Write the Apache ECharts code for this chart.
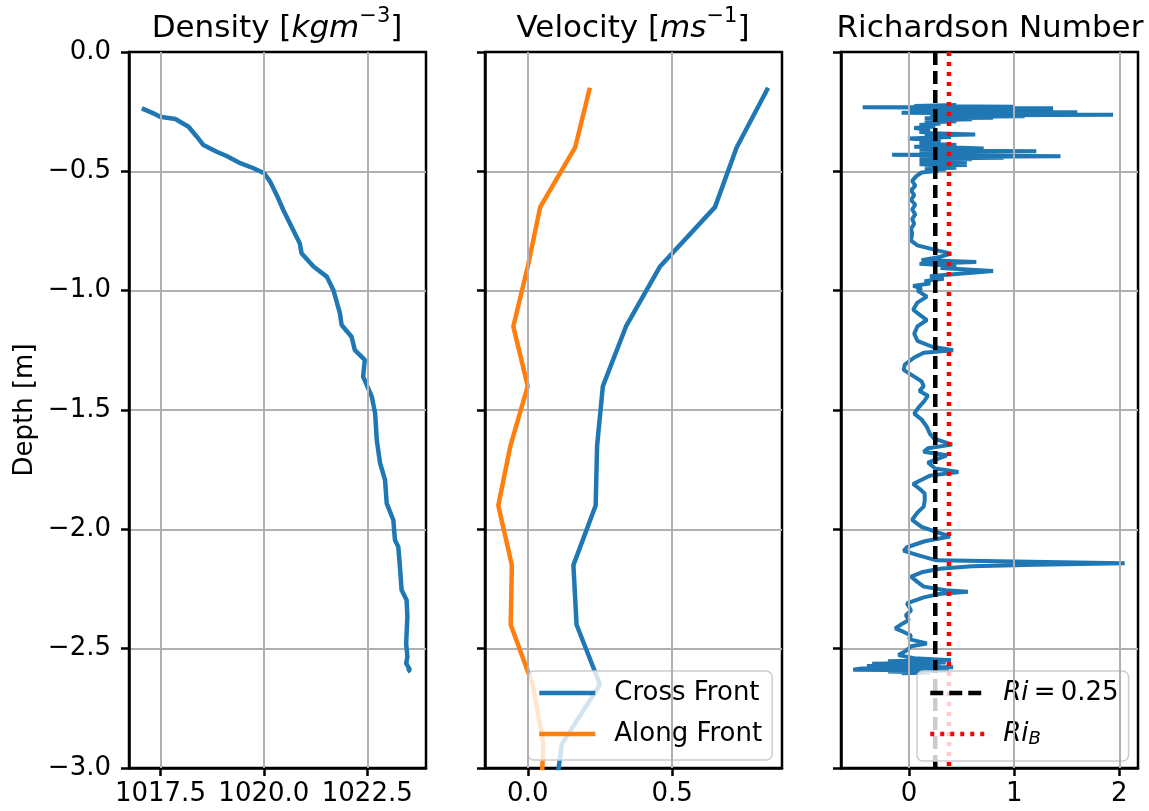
<!DOCTYPE html>
<html>
<head>
<meta charset="utf-8">
<script src="https://cdn.jsdelivr.net/npm/echarts@6/dist/echarts.min.js"></script>
<style>
  html, body { margin: 0; padding: 0; background: #fff; }
  #main { width: 1149px; height: 811px; }
</style>
</head>
<body>
<div id="main"></div>
<script>
// ---- data ----
var densityDepth = [-0.236, -0.257, -0.271, -0.281, -0.313, -0.355, -0.390, -0.418, -0.436, -0.466,
  -0.487, -0.508, -0.543, -0.599, -0.662, -0.732, -0.802, -0.843, -0.899, -0.941,
  -0.997, -1.095, -1.144, -1.193, -1.249, -1.290, -1.360, -1.444, -1.514, -1.626,
  -1.723, -1.793, -1.891, -1.961, -2.045, -2.073, -2.157, -2.254, -2.296, -2.366,
  -2.478, -2.534, -2.561, -2.589, -2.596];
var densityValue = [1017.05, 1017.33, 1017.49, 1017.86, 1018.18, 1018.38, 1018.54, 1018.86, 1019.10, 1019.43,
  1019.75, 1020.01, 1020.15, 1020.31, 1020.47, 1020.67, 1020.87, 1020.91, 1021.20, 1021.52,
  1021.68, 1021.84, 1021.88, 1022.12, 1022.20, 1022.44, 1022.40, 1022.61, 1022.69, 1022.73,
  1022.81, 1022.93, 1022.97, 1023.13, 1023.17, 1023.25, 1023.29, 1023.33, 1023.45, 1023.47,
  1023.44, 1023.47, 1023.44, 1023.53, 1023.47];
var densityTicks = [1017.5, 1020.0, 1022.5];

var velDepth = [-0.15, -0.40, -0.65, -0.90, -1.15, -1.40, -1.65, -1.90, -2.15, -2.40, -2.65, -2.90, -3.15];
var crossFront = [0.832, 0.723, 0.648, 0.457, 0.34, 0.26, 0.24, 0.235, 0.158, 0.169, 0.25, 0.118, 0.09];
var alongFront = [0.215, 0.164, 0.043, 0.0, -0.05, 0.0, -0.06, -0.102, -0.055, -0.059, 0.017, 0.054, 0.045];
var velTicks = [0.0, 0.5];

var riDepth = [
  -0.222, -0.226, -0.229, -0.232, -0.234, -0.236, -0.238, -0.240, -0.242, -0.244,
  -0.246, -0.248, -0.250, -0.252, -0.255, -0.258, -0.261, -0.263, -0.266, -0.269,
  -0.272, -0.275, -0.278, -0.282, -0.286, -0.290, -0.295, -0.300, -0.306, -0.312,
  -0.318, -0.326, -0.334, -0.340, -0.346, -0.350, -0.356, -0.362, -0.368, -0.375,
  -0.382, -0.390, -0.397, -0.401, -0.404, -0.407, -0.410, -0.413, -0.416, -0.419,
  -0.422, -0.425, -0.428, -0.431, -0.434, -0.437, -0.440, -0.443, -0.446, -0.449,
  -0.452, -0.455, -0.458, -0.461, -0.464, -0.467, -0.470, -0.473, -0.476, -0.479,
  -0.482, -0.485, -0.488, -0.491, -0.494, -0.498, -0.505, -0.52, -0.54, -0.56,
  -0.58, -0.60, -0.62, -0.64, -0.66, -0.68, -0.70, -0.72, -0.74, -0.76,
  -0.79, -0.81, -0.83, -0.845, -0.86, -0.872, -0.88, -0.887, -0.897, -0.905,
  -0.918, -0.930, -0.940, -0.950, -0.960, -0.970, -0.980, -0.99, -1.00, -1.025,
  -1.05, -1.08, -1.10, -1.123, -1.15, -1.18, -1.21, -1.235, -1.25, -1.26,
  -1.28, -1.31, -1.332, -1.36, -1.38, -1.40, -1.42, -1.44, -1.46, -1.49,
  -1.515, -1.54, -1.57, -1.60, -1.62, -1.645, -1.66, -1.675, -1.69, -1.72,
  -1.745, -1.76, -1.775, -1.79, -1.81, -1.83, -1.85, -1.88, -1.905, -1.93,
  -1.96, -1.99, -2.01, -2.03, -2.05, -2.075, -2.09, -2.11, -2.13, -2.142,
  -2.148, -2.155, -2.165, -2.18, -2.198, -2.22, -2.24, -2.255, -2.262, -2.27,
  -2.285, -2.31, -2.34, -2.36, -2.38, -2.40, -2.415, -2.43, -2.445, -2.46,
  -2.478, -2.49, -2.51, -2.527, -2.54, -2.548, -2.553, -2.558, -2.563, -2.568,
  -2.573, -2.578, -2.583, -2.588, -2.592, -2.596, -2.600, -2.603];
var riValue = [
  0.45, 0.05, 1.00, -0.44, 0.60, 1.37, 0.10, 0.90, 0.20, 1.20,
  0.00, 0.80, 0.10, 1.60, -0.07, 1.10, 0.20, 1.94, 0.30, 1.10,
  0.20, 0.80, 0.15, 0.60, 0.20, 0.45, 0.15, 0.30, 0.10, 0.25,
  0.05, 0.20, 0.10, 0.22, 0.63, 0.15, 0.40, -0.01, 0.20, 0.30,
  0.10, 0.45, 0.05, 0.50, 0.71, 0.10, 0.40, 0.15, 1.21, 0.20,
  0.60, 0.10, 0.55, -0.16, 0.50, 1.44, 0.15, 0.90, 0.10, 0.60,
  0.15, 0.50, 0.10, 0.55, 0.20, 0.45, 0.10, 0.55, 0.15, 0.40,
  0.20, 0.45, 0.15, 0.35, 0.20, 0.28, 0.12, 0.07, 0.03, 0.06,
  0.02, 0.05, 0.02, 0.06, 0.03, 0.06, 0.03, 0.05, 0.02, 0.03,
  0.02, 0.08, 0.26, 0.40, 0.28, 0.12, 0.64, 0.10, 0.45, 0.30,
  0.80, 0.45, 0.20, 0.33, 0.15, 0.20, 0.04, 0.12, 0.08, 0.17,
  0.08, 0.04, 0.10, 0.17, 0.08, 0.05, 0.08, 0.22, 0.42, 0.14,
  0.05, -0.04, -0.05, 0.05, 0.12, 0.14, 0.10, 0.18, 0.15, 0.09,
  0.05, 0.12, 0.17, 0.20, 0.24, 0.41, 0.18, 0.14, 0.36, 0.18,
  0.25, 0.47, 0.20, 0.13, 0.04, 0.10, 0.15, 0.15, 0.14, 0.08,
  0.03, 0.12, 0.25, 0.39, 0.15, -0.02, -0.05, 0.10, 0.26, 2.05,
  1.20, 0.60, 0.29, 0.12, 0.02, 0.08, 0.14, 0.35, 0.56, 0.30,
  0.14, -0.02, 0.02, -0.03, 0.00, -0.08, -0.13, -0.05, 0.02, 0.00,
  0.17, 0.02, -0.03, -0.10, 0.05, 0.40, -0.20, 0.35, -0.35, 0.30,
  -0.40, 0.42, -0.45, -0.53, 0.38, -0.20, 0.20, -0.07];
var riTicks = [0, 1, 2];
var riCritical = 0.25;
var riBulk = 0.38;

function pairs(xs, ys) {
  return xs.map(function (x, i) { return [x, ys[i]]; });
}

var FONT = 'DejaVu Sans';
var BLUE = '#1f77b4';
var ORANGE = '#ff7f0e';
var GRIDGRAY = '#b0b0b0';
var FS = 26;

var myChart = echarts.init(document.getElementById('main'));

var gridLefts = [129, 485, 841];
var grids = gridLefts.map(function (l) {
  return { left: l, top: 52, width: 297, height: 716, show: true, borderColor: '#000', borderWidth: 2.5,
    backgroundColor: 'transparent', containLabel: false };
});

function yAxisFor(i) {
  return {
    type: 'value', gridIndex: i, min: -3, max: 0, interval: 0.5,
    name: i === 0 ? 'Depth [m]' : '', nameLocation: 'middle', nameGap: 91, nameRotate: 90,
    nameTextStyle: { fontSize: FS, color: '#000', fontFamily: FONT },
    axisLine: { show: true, onZero: false, lineStyle: { color: '#000', width: 2.5 } },
    axisTick: { show: true, length: 8, lineStyle: { color: '#000', width: 2.5 } },
    axisLabel: {
      show: i === 0, fontSize: FS, color: '#000', fontFamily: FONT, margin: 18,
      formatter: function (v) { return v.toFixed(1).replace('-', '\u2212'); }
    },
    splitLine: { show: true, showMinLine: false, showMaxLine: false, lineStyle: { color: GRIDGRAY, width: 2 } }
  };
}

function xAxisFor(i, min, max, ticks, digits) {
  return {
    type: 'value', gridIndex: i, min: min, max: max,
    axisLine: { show: true, onZero: false, lineStyle: { color: '#000', width: 2.5 } },
    axisTick: { show: true, length: 8, customValues: ticks, lineStyle: { color: '#000', width: 2.5 } },
    axisLabel: {
      show: true, customValues: ticks, fontSize: FS, color: '#000', fontFamily: FONT, margin: 13,
      formatter: function (v) { return v.toFixed(digits).replace('-', '\u2212'); }
    },
    splitLine: { show: false }
  };
}

// vertical grid lines at the tick values (drawn under the data)
function vGridSeries(i, ticks) {
  return {
    type: 'line', xAxisIndex: i, yAxisIndex: i, data: [], z: 1, silent: true,
    markLine: {
      silent: true, symbol: ['none', 'none'], label: { show: false },
      lineStyle: { color: GRIDGRAY, width: 2, type: 'solid' },
      emphasis: { disabled: true },
      data: ticks.map(function (t) { return { xAxis: t }; })
    }
  };
}

var titleRich = {
  a: { fontSize: 31, fontFamily: FONT, color: '#000', lineHeight: 38, verticalAlign: 'bottom' },
  b: { fontSize: 31, fontFamily: FONT, color: '#000', fontStyle: 'italic', lineHeight: 38, verticalAlign: 'bottom' },
  c: { fontSize: 21, fontFamily: FONT, color: '#000', lineHeight: 22, verticalAlign: 'top' }
};

function titleFor(text, cx) {
  return { text: text, left: cx, top: 6, textAlign: 'center', padding: 0,
    textStyle: { fontSize: 31, fontFamily: FONT, color: '#000', fontWeight: 'normal', rich: titleRich } };
}

var legendText = {
  fontSize: FS, fontFamily: FONT, color: '#000', padding: [0, 0, 0, 14],
  rich: {
    n: { fontSize: FS, fontFamily: FONT, color: '#000', lineHeight: 28, verticalAlign: 'middle' },
    i: { fontSize: FS, fontFamily: FONT, color: '#000', fontStyle: 'italic', lineHeight: 28, verticalAlign: 'middle' },
    s: { fontSize: 18, fontFamily: FONT, color: '#000', fontStyle: 'italic', lineHeight: 14, verticalAlign: 'bottom' }
  }
};

var legendBase = {
  orient: 'vertical', top: 671, itemHeight: 24, itemGap: 15,
  backgroundColor: 'rgba(255,255,255,0.8)', borderColor: '#cccccc', borderWidth: 1.5, borderRadius: 6,
  itemStyle: { opacity: 0 }, lineStyle: { width: 4.5 },
  textStyle: legendText
};

var option = {
  backgroundColor: '#fff',
  animation: false,
  title: [
    titleFor('{a|Density [}{b|kgm}{c|\u22123}{a|]}', 277),
    titleFor('{a|Velocity [}{b|ms}{c|\u22121}{a|]}', 633),
    titleFor('{a|Richardson Number}', 990)
  ],
  grid: grids,
  xAxis: [
    xAxisFor(0, 1016.74, 1023.92, densityTicks, 1),
    xAxisFor(1, -0.148, 0.880, velTicks, 1),
    xAxisFor(2, -0.646, 2.177, riTicks, 0)
  ],
  yAxis: [yAxisFor(0), yAxisFor(1), yAxisFor(2)],
  legend: [
    Object.assign({}, legendBase, {
      data: ['Cross Front', 'Along Front'], left: 528,
      itemWidth: 56, padding: [9, 10, 13, 9]
    }),
    Object.assign({}, legendBase, {
      data: ['Ri = 0.25', 'RiB'], left: 917,
      itemWidth: 54, padding: [9, 10, 13, 11],
      formatter: function (name) {
        return name === 'RiB' ? '{i|Ri}{s|B}' : '{i|Ri}{n|\u2009=\u20090.25}';
      }
    })
  ],
  series: [
    vGridSeries(0, densityTicks),
    vGridSeries(1, velTicks),
    vGridSeries(2, riTicks),
    {
      name: 'Density', type: 'line', xAxisIndex: 0, yAxisIndex: 0, symbol: 'none',
      data: pairs(densityValue, densityDepth),
      lineStyle: { color: BLUE, width: 4.5 }, itemStyle: { color: BLUE }
    },
    {
      name: 'Cross Front', type: 'line', xAxisIndex: 1, yAxisIndex: 1, symbol: 'none',
      data: pairs(crossFront, velDepth),
      lineStyle: { color: BLUE, width: 4.5 }, itemStyle: { color: BLUE }
    },
    {
      name: 'Along Front', type: 'line', xAxisIndex: 1, yAxisIndex: 1, symbol: 'none',
      data: pairs(alongFront, velDepth),
      lineStyle: { color: ORANGE, width: 4.5 }, itemStyle: { color: ORANGE }
    },
    {
      name: 'Ri', type: 'line', xAxisIndex: 2, yAxisIndex: 2, symbol: 'none',
      data: pairs(riValue, riDepth),
      lineStyle: { color: BLUE, width: 4 }, itemStyle: { color: BLUE }
    },
    {
      name: 'Ri = 0.25', type: 'line', xAxisIndex: 2, yAxisIndex: 2, symbol: 'none',
      data: [[riCritical, 0], [riCritical, -3]],
      lineStyle: { color: '#000', width: 4.5, type: [13, 6] }, itemStyle: { color: '#000' }
    },
    {
      name: 'RiB', type: 'line', xAxisIndex: 2, yAxisIndex: 2, symbol: 'none',
      data: [[riBulk, 0], [riBulk, -3]],
      lineStyle: { color: '#ff0000', width: 4.5, type: [4, 6] }, itemStyle: { color: '#ff0000' }
    }
  ]
};
myChart.setOption(option);
</script>
</body>
</html>
